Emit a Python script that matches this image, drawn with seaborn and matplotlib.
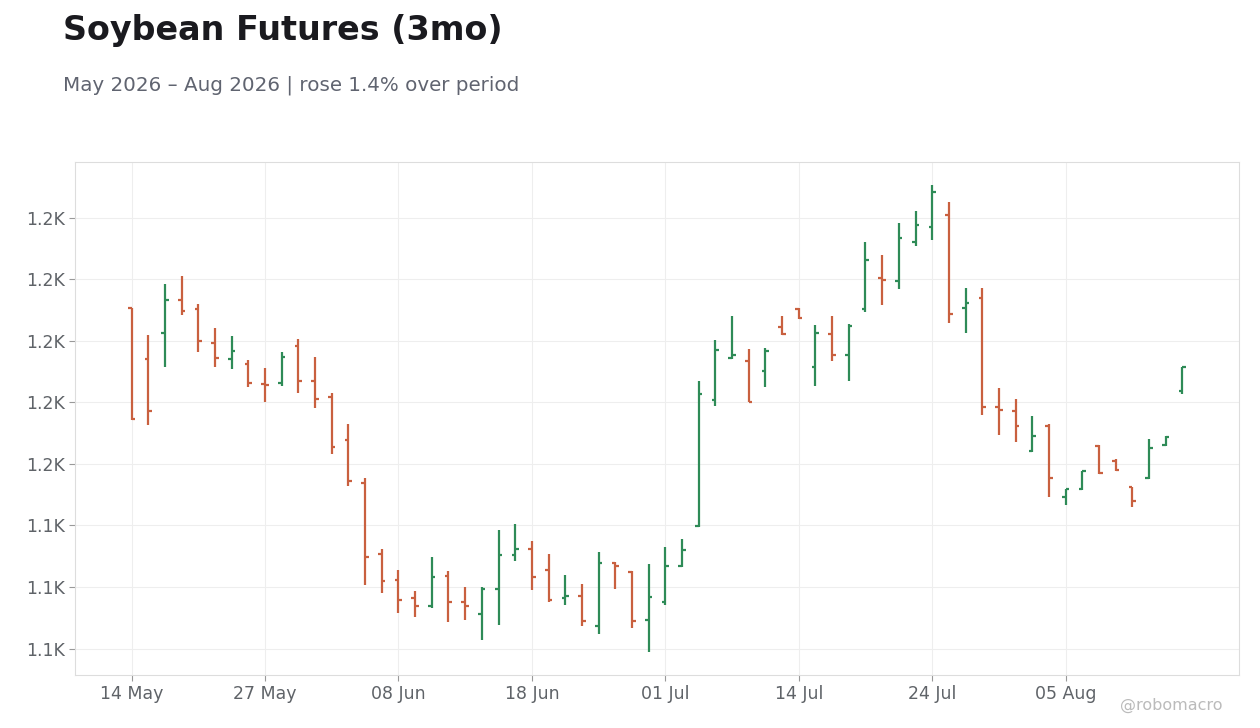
import numpy as np
import pandas as pd
import matplotlib
matplotlib.use('Agg')
import matplotlib.pyplot as plt
import matplotlib.ticker as mticker
import seaborn as sns

# DATA
open_px = [1210.6, 1194.0, 1202.5, 1213.2, 1210.3, 1199.2, 1194.0, 1192.4, 1185.9, 1186.2,
           1198.2, 1186.9, 1181.7, 1167.7, 1153.7, 1130.6, 1122.4, 1116.6, 1114.0, 1123.7,
           1115.3, 1111.4, 1119.2, 1130.3, 1132.2, 1125.4, 1116.6, 1117.2, 1107.2, 1127.7,
           1125.0, 1109.4, 1115.3, 1126.7, 1139.7, 1180.7, 1194.3, 1193.4, 1190.1, 1204.4,
           1210.3, 1191.4, 1202.1, 1195.3, 1210.3, 1220.4, 1219.4, 1232.1, 1237.0, 1240.9,
           1210.6, 1213.9, 1178.4, 1177.1, 1164.1, 1172.2, 1149.4, 1152.0, 1165.7, 1160.8,
           1152.4, 1155.3, 1166.0, 1183.6]
high_px = [1210.8, 1202.0, 1218.6, 1220.9, 1212.1, 1204.0, 1201.7, 1193.6, 1191.3, 1196.2,
           1200.7, 1194.6, 1182.9, 1172.8, 1155.5, 1132.4, 1125.6, 1118.8, 1129.8, 1125.3,
           1120.1, 1120.1, 1138.6, 1140.6, 1135.0, 1130.8, 1124.0, 1121.0, 1131.5, 1128.2,
           1125.2, 1127.6, 1133.1, 1135.7, 1186.8, 1200.4, 1207.9, 1197.2, 1197.5, 1208.2,
           1210.5, 1205.0, 1207.9, 1205.3, 1232.0, 1227.7, 1238.2, 1242.1, 1250.5, 1245.0,
           1217.0, 1217.3, 1184.8, 1181.2, 1175.7, 1173.1, 1152.0, 1157.6, 1166.0, 1161.5,
           1152.6, 1168.2, 1169.0, 1191.6]
low_px = [1174.4, 1172.5, 1191.4, 1208.3, 1196.3, 1191.4, 1190.8, 1184.9, 1180.0, 1185.2,
          1183.1, 1178.1, 1163.1, 1152.7, 1120.8, 1117.9, 1111.7, 1110.4, 1113.3, 1108.5,
          1109.4, 1102.9, 1107.8, 1128.6, 1118.9, 1115.3, 1114.3, 1107.2, 1104.9, 1119.2,
          1106.8, 1099.0, 1114.3, 1126.5, 1139.6, 1178.7, 1194.0, 1180.0, 1184.9, 1201.8,
          1207.0, 1185.2, 1193.4, 1186.9, 1209.3, 1211.6, 1216.8, 1230.8, 1232.7, 1205.7,
          1202.5, 1175.8, 1169.3, 1167.0, 1163.8, 1149.4, 1146.5, 1151.4, 1156.6, 1157.6,
          1145.9, 1155.0, 1165.7, 1182.6]
close_px = [1174.7, 1177.1, 1213.2, 1209.6, 1199.9, 1194.3, 1196.6, 1186.2, 1185.5, 1194.7,
            1186.9, 1181.0, 1165.4, 1154.3, 1129.9, 1121.8, 1115.9, 1114.0, 1123.4, 1115.3,
            1113.7, 1119.5, 1130.3, 1132.2, 1123.1, 1115.9, 1117.2, 1109.1, 1127.7, 1126.7,
            1109.1, 1116.9, 1126.7, 1131.9, 1182.6, 1196.9, 1195.3, 1180.2, 1196.6, 1202.1,
            1207.3, 1202.5, 1195.3, 1204.7, 1226.2, 1219.7, 1233.4, 1237.6, 1248.3, 1208.7,
            1212.2, 1178.4, 1177.4, 1172.2, 1169.0, 1155.3, 1151.7, 1157.6, 1156.9, 1157.9,
            1147.8, 1165.1, 1168.6, 1191.4]

holidays = ['2026-05-25', '2026-06-19', '2026-07-03']
dates = [d for d in pd.bdate_range('2026-05-14', '2026-08-14') if d.strftime('%Y-%m-%d') not in holidays]

df = pd.DataFrame({'date': dates, 'open': open_px, 'high': high_px,
                   'low': low_px, 'close': close_px})
df['idx'] = np.arange(len(df))
df['up'] = df['close'] >= df['open']

UP = '#2e8b57'
DOWN = '#c9603f'
colors = np.where(df['up'], UP, DOWN)

sns.set_theme(style='whitegrid')
plt.rcParams['font.family'] = ['DejaVu Sans']

fig = plt.figure(figsize=(12.6, 7.28), dpi=100)
ax = fig.add_axes([0.0595, 0.0728, 0.9238, 0.7047])

tick_w = 0.22
ax.vlines(df['idx'], df['low'], df['high'], colors=colors, linewidth=1.6)
ax.hlines(df['open'], df['idx'] - tick_w, df['idx'], colors=colors, linewidth=1.6)
ax.hlines(df['close'], df['idx'], df['idx'] + tick_w, colors=colors, linewidth=1.6)
ax.margins(x=0.05, y=0.05)

tick_pos = df['idx'][::8]
ax.set_xticks(tick_pos)
ax.set_xticklabels([d.strftime('%d %b') for d in df['date'][::8]])
ax.yaxis.set_major_locator(mticker.MultipleLocator(20))
ax.yaxis.set_major_formatter(mticker.FuncFormatter(lambda v, p: f'{v/1000:.1f}K'))

ax.grid(True, color='#eeeeee', linewidth=0.8)
for s in ax.spines.values():
    s.set_color('#dddddd')
    s.set_linewidth(0.8)
ax.tick_params(axis='both', labelsize=12.5, colors='#5f6368', length=4, width=0.8,
               bottom=True, left=True)
ax.tick_params(axis='both', color='#999999')

fig.text(0.05, 0.945, 'Soybean Futures (3mo)', fontsize=24, fontweight='bold',
         color='#1a1a1f', ha='left', va='baseline')
fig.text(0.05, 0.876, 'May 2026 \u2013 Aug 2026 | rose 1.4% over period', fontsize=14.3,
         color='#606470', ha='left', va='baseline')
fig.text(0.97, 0.025, '@robomacro', fontsize=11.5, color='#bbbbbb', ha='right', va='baseline')

fig.savefig('out.png', dpi=100)
